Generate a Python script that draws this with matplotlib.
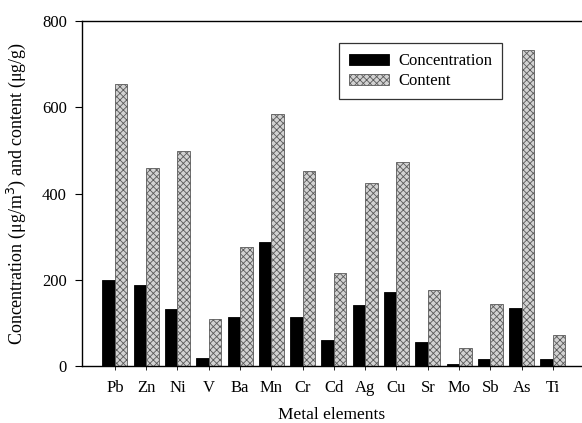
import matplotlib
matplotlib.use("Agg")
import matplotlib.pyplot as plt
import numpy as np

elements = ["Pb", "Zn", "Ni", "V", "Ba", "Mn", "Cr", "Cd", "Ag", "Cu", "Sr", "Mo", "Sb", "As", "Ti"]
concentration = [199, 187, 131, 19, 113, 287, 114, 59, 141, 172, 55, 5, 15, 134, 16]
content = [654, 459, 499, 108, 277, 584, 452, 216, 425, 473, 175, 41, 143, 732, 72]
yticks = [0, 200, 400, 600, 800]

plt.rcParams['font.family'] = ['Liberation Serif', 'DejaVu Serif']
plt.rcParams['hatch.linewidth'] = 0.6

fig = plt.figure(figsize=(5.82, 4.23), dpi=100)
ax = fig.add_axes([0.141, 0.135, 0.859, 0.815])

x = np.arange(len(elements))
w = 0.4
ax.bar(x - w / 2, concentration, width=w, color='black', edgecolor='black', linewidth=0.6,
       label='Concentration')
ax.bar(x + w / 2, content, width=w, color='#d2d2d2', edgecolor='#5a5a5a', linewidth=0.6,
       hatch='xxxxx', label='Content')

ax.set_xlim(-1.05, 14.93)
ax.set_ylim(0, 800)
ax.set_yticks(yticks)
ax.set_xticks(x)
ax.set_xticklabels(elements, fontsize=12)
ax.tick_params(axis='y', labelsize=12, direction='out', length=5, width=0.8, pad=6)
ax.tick_params(axis='x', direction='out', length=3, width=0.6, pad=7)
ax.spines['right'].set_visible(False)
for s in ['left', 'top', 'bottom']:
    ax.spines[s].set_linewidth(1.0)

ax.set_ylabel('Concentration (μg/m$^3$) and content (μg/g)', fontsize=13, labelpad=10)
ax.set_xlabel('Metal elements', fontsize=12.5, labelpad=8)

leg = ax.legend(loc='upper left', bbox_to_anchor=(0.514, 0.936), fontsize=12,
                frameon=True, fancybox=False, edgecolor='black', handlelength=2.4,
                handleheight=0.6, borderpad=0.6, labelspacing=0.25, handletextpad=0.55,
                borderaxespad=0)
leg.get_frame().set_linewidth(0.9)

fig.savefig('out.png', dpi=100)
